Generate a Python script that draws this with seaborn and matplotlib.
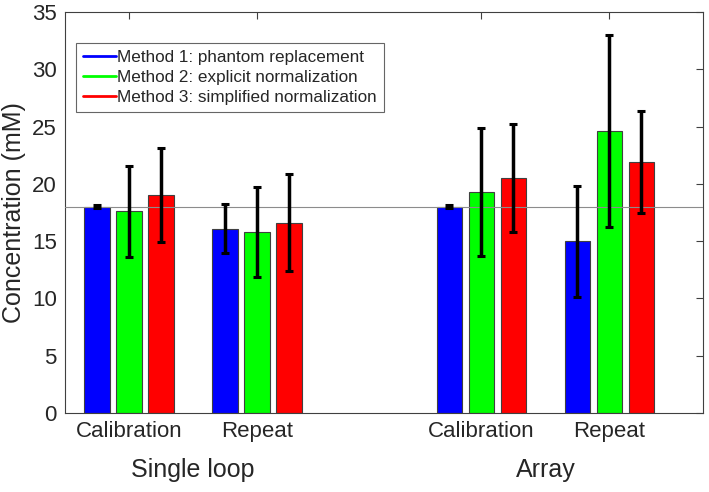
import numpy as np
import pandas as pd
import matplotlib
matplotlib.use("Agg")
import matplotlib.pyplot as plt
import matplotlib.transforms as mtransforms
from matplotlib.lines import Line2D
import seaborn as sns

sns.set_theme(style="white")
plt.rcParams['font.family'] = ['Liberation Sans', 'DejaVu Sans']

# ---- data ----
methods = ["Method 1: phantom replacement",
           "Method 2: explicit normalization",
           "Method 3: simplified normalization"]
conditions = ["Calibration", "Repeat", "Calibration", "Repeat"]
positions = [1.0, 2.0, 3.75, 4.75]
groups = ["Single loop", "Array"]
m1_mean = [18.0, 16.1, 18.0, 15.0]
m1_sd = [0.15, 2.15, 0.12, 4.85]
m2_mean = [17.6, 15.8, 19.3, 24.6]
m2_sd = [4.0, 3.9, 5.6, 8.4]
m3_mean = [19.0, 16.6, 20.5, 21.9]
m3_sd = [4.1, 4.25, 4.7, 4.45]
reference_value = 18.0
colors = ["#0000ff", "#00ff00", "#ff0000"]

means = [m1_mean, m2_mean, m3_mean]
sds = [m1_sd, m2_sd, m3_sd]
rows = []
for mi, m in enumerate(methods):
    for pi, p in enumerate(positions):
        rows.append({"pos": p, "method": m, "value": means[mi][pi], "sd": sds[mi][pi]})
df = pd.DataFrame(rows)

fig = plt.figure(figsize=(7.09, 4.92), dpi=100)
ax = fig.add_axes([0.0917, 0.1606, 0.8998, 0.815])

sns.barplot(data=df, x="pos", y="value", hue="method", hue_order=methods,
            palette=colors, native_scale=True, width=0.75, gap=0.2,
            errorbar=None, edgecolor="#404040", linewidth=0.8, saturation=1,
            legend=False, ax=ax, zorder=2)

# error bars at each bar centre (taken from the drawn patches)
bar_containers = list(ax.containers)
for ci, cont in enumerate(bar_containers):
    m = methods[ci]
    sub = df[df.method == m].sort_values("pos")
    xs = [b.get_x() + b.get_width() / 2 for b in cont]
    ax.errorbar(xs, sub["value"].values, yerr=sub["sd"].values, fmt="none",
                ecolor="black", elinewidth=2.5, capsize=3, capthick=2.2, zorder=4)

ax.axhline(reference_value, color="#8c8c8c", lw=0.8, zorder=3)

ax.set_xlim(0.5, 5.48)
ax.set_ylim(0, 35)
ax.set_yticks(np.arange(0, 36, 5))
ax.set_xticks(positions)
ax.set_xticklabels(conditions, fontsize=16)
ax.tick_params(axis="y", labelsize=16)
ax.tick_params(direction="in", top=True, right=True, length=5, width=0.8,
               color="#404040", pad=6)
ax.set_xlabel("")
ax.set_ylabel("Concentration (mM)", fontsize=18, labelpad=4)
for s in ax.spines.values():
    s.set_color("#404040")
    s.set_linewidth(0.8)

trans = mtransforms.blended_transform_factory(ax.transData, fig.transFigure)
ax.text((positions[0] + positions[1]) / 2, 0.045, groups[0], transform=trans,
        ha="center", va="center", fontsize=18)
ax.text((positions[2] + positions[3]) / 2, 0.045, groups[1], transform=trans,
        ha="center", va="center", fontsize=18)

handles = [Line2D([0], [0], color=c, lw=2) for c in colors]
leg = ax.legend(handles, methods, loc="upper left", bbox_to_anchor=(0.018, 0.922),
                fontsize=12.3, frameon=True, fancybox=False, handlelength=1.9,
                handletextpad=0.1, borderpad=0.4, labelspacing=0.3,
                borderaxespad=0)
leg.get_frame().set_edgecolor("#404040")
leg.get_frame().set_linewidth(0.8)

fig.savefig("out.png", dpi=100)
